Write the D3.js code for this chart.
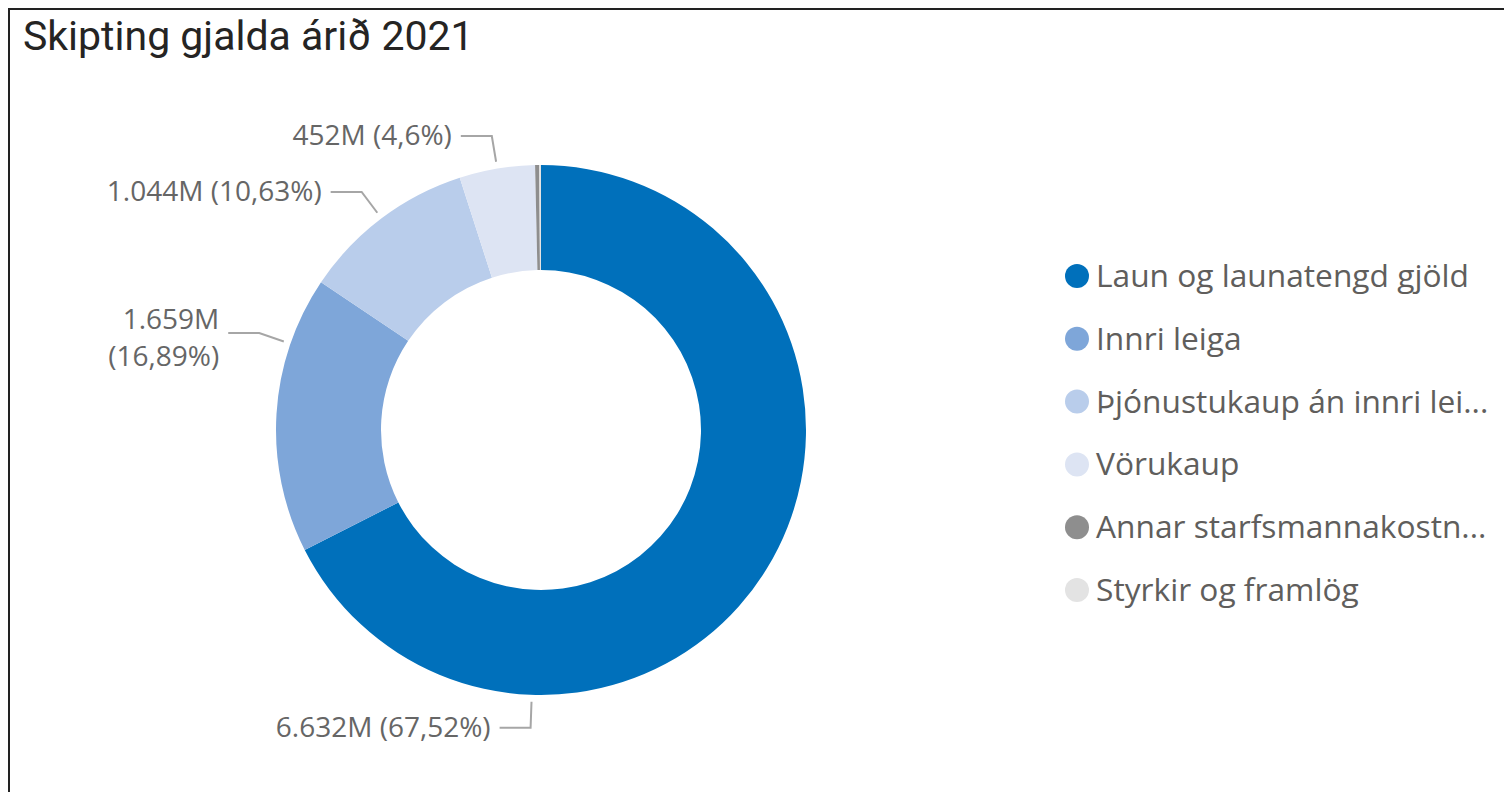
<!DOCTYPE html>
<html>
<head>
<meta charset="utf-8">
<script src="https://cdn.jsdelivr.net/npm/d3@7"></script>
<style>
  html, body { margin: 0; padding: 0; background: #fff; }
  svg { display: block; }
</style>
</head>
<body>
<svg id="chart"></svg>
<script>
// gögn
const categories = ['Laun og launatengd gjöld', 'Innri leiga', 'Þjónustukaup án innri leigu', 'Vörukaup', 'Annar starfsmannakostnaður', 'Styrkir og framlög'];
const legendLabels = ['Laun og launatengd gjöld', 'Innri leiga', 'Þjónustukaup án innri lei...', 'Vörukaup', 'Annar starfsmannakostn...', 'Styrkir og framlög'];
const values = [6632, 1659, 1044, 452, 25, 10];   // milljónir kr.
const colors = ['#0070bb', '#7ea6d9', '#b9cdeb', '#dde4f3', '#8e8e8e', '#e3e3e3'];
const valueLabels = ['6.632M (67,52%)', '1.659M|(16,89%)', '1.044M (10,63%)', '452M (4,6%)', null, null];

const width = 1504, height = 792;
const cx = 541, cy = 430;
const outerR = 265, innerR = 160;

// horn merkilína (Power BI færir merkin til)
const labelAngle = [182, 289, 323, 350.5];

const svg = d3.select('#chart')
  .attr('width', width)
  .attr('height', height);

// rammi
svg.append('path')
  .attr('d', `M9,${height} V9 H${width}`)
  .attr('fill', 'none')
  .attr('stroke', '#222')
  .attr('stroke-width', 2);

// titill
svg.append('text')
  .attr('x', 23)
  .attr('y', 50)
  .style('font-family', 'Roboto, sans-serif')
  .style('font-size', '41px')
  .style('fill', '#252423')
  .text('Skipting gjalda árið 2021');

const g = svg.append('g').attr('transform', `translate(${cx},${cy})`);

const pie = d3.pie().sort(null).value(d => d)(values);
const arc = d3.arc().innerRadius(innerR).outerRadius(outerR);

g.selectAll('path.slice')
  .data(pie)
  .enter().append('path')
  .attr('class', 'slice')
  .attr('d', arc)
  .attr('fill', (d, i) => colors[i]);

// merki
const labelFont = '"Open Sans", sans-serif';
pie.forEach((d, i) => {
  if (!valueLabels[i]) return;
  const a = labelAngle[i] * Math.PI / 180;
  const p0 = [272 * Math.sin(a), -272 * Math.cos(a)];
  const p1 = [298 * Math.sin(a), -298 * Math.cos(a)];
  const p2 = [p1[0] - 31, p1[1]];

  g.append('polyline')
    .attr('points', [p0, p1, p2].map(p => p.join(',')).join(' '))
    .attr('fill', 'none')
    .attr('stroke', '#a6a6a6')
    .attr('stroke-width', 2);

  const lines = valueLabels[i].split('|');
  const t = g.append('text')
    .attr('text-anchor', 'end')
    .style('font-family', labelFont)
    .style('font-size', '28px')
    .style('fill', '#666666');
  if (lines.length === 1) {
    t.append('tspan').attr('x', p2[0] - 9).attr('y', p2[1] + 9).text(lines[0]);
  } else {
    t.append('tspan').attr('x', p2[0] - 9).attr('y', p2[1] - 4).text(lines[0]);
    t.append('tspan').attr('x', p2[0] - 9).attr('y', p2[1] + 33).text(lines[1]);
  }
});

// skýringar
const legend = svg.append('g').attr('transform', 'translate(1077,276)');
const item = legend.selectAll('g.item')
  .data(categories)
  .enter().append('g')
  .attr('class', 'item')
  .attr('transform', (d, i) => `translate(0,${i * 62.8})`);

item.append('circle')
  .attr('r', 12)
  .attr('fill', (d, i) => colors[i]);

item.append('text')
  .attr('x', 19)
  .attr('y', 11)
  .style('font-family', labelFont)
  .style('font-size', '31.7px')
  .style('fill', '#605e5c')
  .text((d, i) => legendLabels[i]);
</script>
</body>
</html>
